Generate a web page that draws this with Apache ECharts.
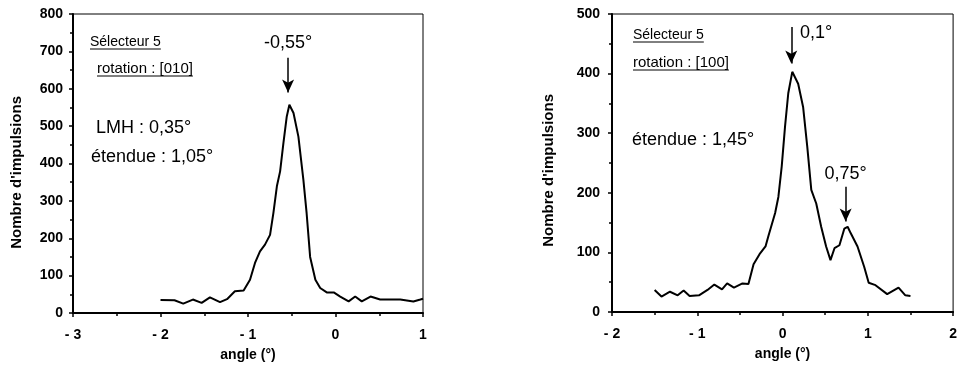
<!DOCTYPE html>
<html>
<head>
<meta charset="utf-8">
<script src="https://cdn.jsdelivr.net/npm/echarts@6/dist/echarts.min.js"></script>
<style>
html,body{margin:0;padding:0;background:#fff;}
#c{width:960px;height:374px;}
</style>
</head>
<body>
<div id="c"></div>
<script>
// ---- data ----
var leftAngle = [-2.0,-1.84,-1.74,-1.63,-1.53,-1.435,-1.32,-1.24,-1.15,-1.05,-0.977,-0.92,-0.863,-0.806,-0.748,-0.71,-0.67,-0.633,-0.595,-0.557,-0.527,-0.48,-0.424,-0.367,-0.33,-0.29,-0.23,-0.175,-0.1,-0.02,0.054,0.15,0.225,0.3,0.4,0.51,0.74,0.89,0.97,1.0];
var leftCounts = [35,34,25,36,27,42,29,37,58,60,89,134,165,183,209,267,339,379,455,526,557,535,472,356,267,150,89,67,55,55,44,31,44,31,44,36,36,31,36,38];

var rightAngle = [-1.5,-1.42,-1.32,-1.23,-1.16,-1.09,-0.98,-0.88,-0.80,-0.71,-0.65,-0.57,-0.47,-0.40,-0.34,-0.27,-0.2,-0.165,-0.087,-0.049,-0.01,0.029,0.067,0.114,0.183,0.241,0.29,0.337,0.395,0.453,0.511,0.562,0.609,0.667,0.725,0.763,0.80,0.879,0.957,1.01,1.09,1.227,1.36,1.44,1.5];
var rightCounts = [37,26,34,28,36,27,28,37,46,38,48,41,48,47,80,97,110,128,166,193,244,311,367,403,383,344,277,205,182,143,110,87,107,112,140,143,132,110,76,49,45,30,41,28,27];

var leftXTicks = ['- 3','- 2','- 1','0','1'];        // for -3..1
var rightXTicks = ['- 2','- 1','0','1','2'];         // for -2..2
var leftYTicks = ['0','100','200','300','400','500','600','700','800'];
var rightYTicks = ['0','100','200','300','400','500'];

var leftPeakLabel = '-0,55°';
var leftPeakAngle = -0.542;
var rightPeakLabel1 = '0,1°';
var rightPeakAngle1 = 0.102;
var rightPeakLabel2 = '0,75°';
var rightPeakAngle2 = 0.74;

var yTitle = "Nombre d'impulsions";
var xTitle = 'angle (°)';

// ---- chart ----
function pairs(xs, ys){ return xs.map(function(x,i){ return [x, ys[i]]; }); }

var FONT = 'Liberation Sans, Arial, Helvetica, sans-serif';
var tickFont = {color:'#000', fontFamily:FONT, fontWeight:'bold', fontSize:14};

var mctx = document.createElement('canvas').getContext('2d');
function textW(txt, font){ mctx.font = font; return mctx.measureText(txt).width; }

function xAxisCfg(idx, min, max, labels){
  return {
    type:'value', gridIndex:idx, min:min, max:max, interval:1,
    axisLine:{onZero:false, lineStyle:{color:'#000', width:2}},
    axisTick:{show:true, length:4, lineStyle:{color:'#000', width:1.5}},
    minorTick:{show:true, splitNumber:2, length:3, lineStyle:{color:'#000', width:1.5}},
    splitLine:{show:false},
    axisLabel:Object.assign({margin:15, formatter:function(v){ return labels[Math.round(v-min)]; }}, tickFont),
    name:xTitle, nameLocation:'middle', nameGap:35,
    nameTextStyle:{color:'#000', fontFamily:FONT, fontWeight:'bold', fontSize:14}
  };
}
function yAxisCfg(idx, max, labels, margin){
  return {
    type:'value', gridIndex:idx, min:0, max:max, interval:100,
    axisLine:{onZero:false, lineStyle:{color:'#000', width:2}},
    axisTick:{show:true, length:4, lineStyle:{color:'#000', width:1.5}},
    minorTick:{show:true, splitNumber:2, length:3, lineStyle:{color:'#000', width:1.5}},
    splitLine:{show:false},
    axisLabel:Object.assign({margin:margin, formatter:function(v){ return labels[Math.round(v/100)]; }}, tickFont)
  };
}

function arrowLine(x, y0, y1){
  return [{coord:[x, y0]}, {coord:[x, y1]}];
}

function underlined(txt, left, top, size){
  var f = size + 'px ' + FONT;
  var w = textW(txt, f);
  return [
    {type:'text', left:left, top:top, style:{text:txt, fill:'#000', font:f}},
    {type:'line', shape:{x1:left, y1:top+size, x2:left+w, y2:top+size}, style:{stroke:'#000', lineWidth:1}}
  ];
}

var annoFont = '18px ' + FONT;
var graphics = [
  {type:'text', left:9, top:96, rotation:Math.PI/2, style:{text:yTitle, fill:'#000', font:'bold 15px '+FONT}},
  {type:'text', left:541, top:94, rotation:Math.PI/2, style:{text:yTitle, fill:'#000', font:'bold 15px '+FONT}},
  {type:'text', left:96, top:119, style:{text:'LMH : 0,35°', fill:'#000', font:annoFont}},
  {type:'text', left:91, top:148, style:{text:'étendue : 1,05°', fill:'#000', font:annoFont}},
  {type:'text', left:632, top:131, style:{text:'étendue : 1,45°', fill:'#000', font:annoFont}}
].concat(
  underlined('Sélecteur 5', 90, 35, 14),
  underlined('rotation : [010]', 97, 61, 15),
  underlined('Sélecteur 5', 633, 28, 14),
  underlined('rotation : [100]', 633, 55, 15)
);

var option = {
  animation:false,
  backgroundColor:'#fff',
  grid:[
    {left:73, right:537, top:14, bottom:61, show:true, borderColor:'#000', borderWidth:1, backgroundColor:'transparent'},
    {left:612, right:3, top:14, bottom:62, show:true, borderColor:'#000', borderWidth:1, backgroundColor:'transparent'}
  ],
  xAxis:[ xAxisCfg(0,-3,1,leftXTicks), xAxisCfg(1,-2,2,rightXTicks) ],
  yAxis:[ yAxisCfg(0,800,leftYTicks,10), yAxisCfg(1,500,rightYTicks,12) ],
  series:[
    {
      type:'line', xAxisIndex:0, yAxisIndex:0, data:pairs(leftAngle,leftCounts),
      showSymbol:false, symbol:'none', lineStyle:{color:'#000', width:2}, z:3,
      markLine:{
        silent:true, symbol:['none','arrow'], symbolSize:[9,13],
        lineStyle:{color:'#000', width:1.5, type:'solid'}, label:{show:false},
        data:[ arrowLine(leftPeakAngle, 683, 590) ]
      },
      markPoint:{
        silent:true, symbol:'circle', symbolSize:0,
        label:{show:true, position:'inside', color:'#000', fontFamily:FONT, fontSize:18},
        data:[ {coord:[leftPeakAngle, 722], value:leftPeakLabel} ]
      }
    },
    {
      type:'line', xAxisIndex:1, yAxisIndex:1, data:pairs(rightAngle,rightCounts),
      showSymbol:false, symbol:'none', lineStyle:{color:'#000', width:2}, z:3,
      markLine:{
        silent:true, symbol:['none','arrow'], symbolSize:[9,13],
        lineStyle:{color:'#000', width:1.5, type:'solid'}, label:{show:false},
        data:[ arrowLine(rightPeakAngle1, 478, 417), arrowLine(rightPeakAngle2, 210, 152) ]
      },
      markPoint:{
        silent:true, symbol:'circle', symbolSize:0,
        label:{show:true, color:'#000', fontFamily:FONT, fontSize:18},
        data:[
          {coord:[0.205, 468], value:rightPeakLabel1, label:{position:'right', distance:0}},
          {coord:[rightPeakAngle2, 231], value:rightPeakLabel2, label:{position:'inside'}}
        ]
      }
    }
  ],
  graphic:graphics
};

var chart = echarts.init(document.getElementById('c'), null, {renderer:'canvas'});
chart.setOption(option);
</script>
</body>
</html>
